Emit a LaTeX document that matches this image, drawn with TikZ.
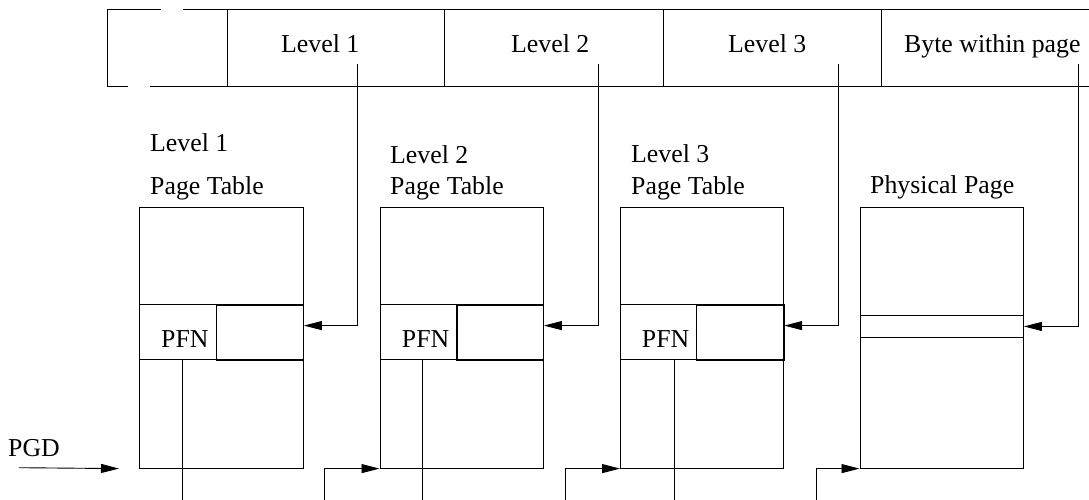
\documentclass[tikz,border=0pt]{standalone}
\usepackage{fontspec}
\setmainfont{Liberation Serif}
\usetikzlibrary{arrows.meta}
\begin{document}
\begin{tikzpicture}[x=1pt,y=-1pt,
  thin line/.style={line width=0.9pt},
  txt/.style={anchor=base west, inner sep=0pt, font=\fontsize{25.8pt}{30pt}\selectfont},
  tbl/.style={draw, thin line, inner sep=0pt, anchor=north west},
  entry/.style={draw, line width=1.2pt, inner sep=0pt, anchor=north west},
  cell/.style={draw, line width=1.7pt, inner sep=0pt, anchor=north west},
  arr/.style={thin line, -{Triangle[length=18pt,width=9pt]}},
  field/.style={inner sep=0pt, anchor=north west, minimum height=76.2pt}]
\useasboundingbox (0,0) rectangle (1089,500);

% ---------- virtual address ----------
\node[field, minimum width=120pt]   (f0) at (107,9.5) {};
\node[field, minimum width=217.5pt] (f1) at (227,9.5) {};
\node[field, minimum width=218.5pt] (f2) at (444.5,9.5) {};
\node[field, minimum width=218.5pt] (f3) at (663,9.5) {};
\node[field, minimum width=207.5pt] (f4) at (881.5,9.5) {};
\draw[thin line] (f0.north west) -- ++(54,0) ++(22,0) -- (f4.north east);
\draw[thin line] (f0.south west) -- ++(21,0) ++(22,0) -- (f4.south east);
\draw[thin line] (f0.north west) -- (f0.south west);
\draw[thin line] (f1.north west) -- (f1.south west);
\draw[line width=1.4pt] (f2.north west) -- (f2.south west);
\draw[thin line] (f3.north west) -- (f3.south west);
\draw[thin line] (f4.north west) -- (f4.south west);
\node[txt] (a1) at (281,53) {Level 1};
\node[txt] (a2) at (511,53) {Level 2};
\node[txt] (a3) at (728,53) {Level 3};
\node[txt] (a4) at (904,53) {Byte within page};

% ---------- table titles ----------
\node[txt] (t1a) at (150,151) {Level 1};
\node[txt] (t1b) at (150,194) {Page Table};
\node[txt] (t2a) at (390,163) {Level 2};
\node[txt] (t2b) at (390,194) {Page Table};
\node[txt] (t3a) at (631,162) {Level 3};
\node[txt] (t3b) at (631,194) {Page Table};
\node[txt] (t4b) at (870,193) {Physical Page};

% ---------- tables ----------
\node[tbl, minimum width=163.7pt, minimum height=260.7pt] (tab1) at (139,207) {};
\node[tbl, minimum width=163.2pt, minimum height=260.7pt] (tab2) at (379.5,207) {};
\node[tbl, minimum width=163pt,   minimum height=260.7pt] (tab3) at (620,207) {};
\node[tbl, minimum width=163.2pt, minimum height=260.7pt] (phys) at (859.5,207) {};

% entries
\node[entry, minimum width=163.7pt, minimum height=55pt] (row1) at (139,304) {};
\node[entry, minimum width=163.2pt, minimum height=55pt] (row2) at (379.5,304) {};
\node[entry, minimum width=163pt,   minimum height=55pt] (row3) at (620,304) {};
\node[cell, minimum width=87pt,   minimum height=55pt] (c1) at (215.7,304) {};
\node[cell, minimum width=86.7pt, minimum height=55pt] (c2) at (456,304) {};
\node[cell, minimum width=87.3pt, minimum height=55pt] (c3) at (695.7,304) {};
\node[draw, line width=1.2pt, inner sep=0pt, anchor=north west,
      minimum width=163.2pt, minimum height=21.7pt] (slot) at (859.5,315) {};
\node[txt] (p1) at (161,347) {PFN};
\node[txt] (p2) at (401.7,347) {PFN};
\node[txt] (p3) at (641.7,347) {PFN};

% ---------- index lines from the address ----------
\coordinate (s1) at (357,64);
\coordinate (s2) at (598,64);
\coordinate (s3) at (838,64);
\coordinate (s4) at (1078,64);
\draw[arr] (s1) |- ([yshift=6.5pt]row1.east);
\draw[arr] (s2) |- ([yshift=6.5pt]row2.east);
\draw[arr] (s3) |- ([yshift=6.5pt]row3.east);
\draw[arr] (s4) |- (slot.east);

% ---------- PFN lines ----------
\coordinate (d1) at (182.7,500);
\coordinate (d2) at (422.7,500);
\coordinate (d3) at (674.3,500);
\draw[thin line] (d1 |- row1.south) -- (d1);
\draw[thin line] (d2 |- row2.south) -- (d2);
\draw[thin line] (d3 |- row3.south) -- (d3);

% ---------- base pointers into each table ----------
\coordinate (b2) at (324.7,500);
\coordinate (b3) at (565,500);
\coordinate (b4) at (816,500);
\draw[arr] (b2) |- (tab2.south west);
\draw[arr] (b3) |- (tab3.south west);
\draw[arr] (b4) |- (phys.south west);

% ---------- PGD ----------
\node[txt] (pgd) at (8,456) {PGD};
\coordinate (g0) at (19,467.7);
\draw[arr] (g0) -- ([xshift=-20pt]tab1.south west);
\end{tikzpicture}
\end{document}
